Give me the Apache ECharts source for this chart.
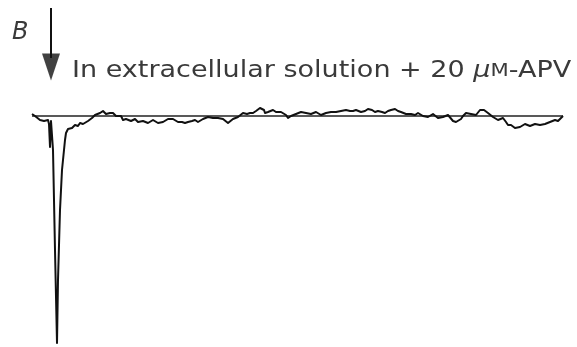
<!DOCTYPE html>
<html><head><meta charset="utf-8">
<script src="https://cdn.jsdelivr.net/npm/echarts@6/dist/echarts.min.js"></script>
<style>html,body{margin:0;padding:0;background:#fff}#c{width:577px;height:347px}</style>
</head><body><div id="c"></div>
<script>
// time (arbitrary units, sweep position) and membrane current (arbitrary units, 0 = holding baseline)
const timePts = [0,1,3,5,8,10,12,14,16,17,18,19,20,21,23,25,26,26,28,30,33,34,36,38,40,43,46,48,51,53,56,58,60,63,65,68,71,74,76,78,81,84,86,89,91,94,96,99,101,103,106,108,111,113,116,118,121,123,126,128,131,133,136,138,141,143,146,150,153,156,160,163,166,168,171,173,176,178,181,183,186,188,191,193,196,198,201,203,206,208,211,213,215,216,218,221,224,226,228,230,232,233,236,238,241,244,246,249,251,254,256,259,261,264,266,269,271,274,276,279,281,284,286,289,291,294,296,299,301,304,306,309,311,314,318,321,324,326,329,333,336,340,343,346,350,353,356,359,363,366,369,371,374,376,379,383,386,388,391,393,396,398,401,403,406,408,411,413,416,418,421,424,426,429,431,434,436,439,441,444,446,448,450,452,453,456,458,461,463,466,468,471,474,476,479,481,483,485,488,490,493,495,498,500,503,505,508,510,513,515,518,520,523,526,528,530,531];
const currentPts = [2,4,0,-2,-4,-2,-5,-7,-4,-8,-31,-5,-6,-34,-134,-227,-227,-164,-94,-54,-24,-17,-13,-11,-12,-9,-10,-7,-8,-7,-5,-4,-2,1,0,3,5,2,1,3,3,0,-1,0,-4,-3,-2,-5,-4,-3,-6,-7,-5,-4,-7,-7,-4,-4,-7,-8,-6,-5,-3,-2,-3,-4,-6,-6,-7,-6,-5,-4,-6,-5,-3,-2,-1,0,-2,-4,-2,-1,-3,-5,-7,-6,-3,-2,-1,0,3,5,2,1,3,3,5,6,8,10,6,3,4,5,6,4,5,4,3,1,-2,0,1,2,3,4,5,3,3,2,1,4,5,1,0,3,3,4,5,4,5,5,6,6,5,5,6,6,4,5,7,6,4,5,4,3,5,6,7,5,4,3,2,1,2,1,3,3,0,1,-1,0,2,1,-2,-2,-1,0,1,0,-5,-6,-7,-3,0,3,5,2,0,1,3,6,8,6,5,3,1,-1,-2,-4,-5,-2,-6,-9,-9,-10,-12,-14,-11,-10,-8,-9,-10,-10,-8,-7,-9,-10,-8,-7,-6,-5,-4,-5,-4,-1,0];
// holding-current reference line
const baseTime = [0, 531];
const baseCurrent = [0, 0];
// stimulus arrow (time, current)
const arrowTime = [19, 19];
const arrowCurrent = [108, 58];
const arrowHead = [19, 49];

const trace = timePts.map((t, i) => [t, currentPts[i]]);
const base = baseTime.map((t, i) => [t, baseCurrent[i]]);
const arrow = arrowTime.map((t, i) => [t, arrowCurrent[i]]);

const TXT = '#3a3a3a';
const chart = echarts.init(document.getElementById('c'), null, {renderer: 'canvas'});
chart.setOption({
  backgroundColor: '#ffffff',
  animation: false,
  grid: {left: 0, right: 0, top: 0, bottom: 0},
  xAxis: {type: 'value', min: -32, max: 545, show: false},
  yAxis: {type: 'value', min: -231, max: 116, show: false},
  graphic: [{
    type: 'text', x: 12, y: 21, z: 10,
    style: {text: 'B', fontFamily: 'DejaVu Sans', fontStyle: 'italic', fontSize: 24, fill: TXT, verticalAlign: 'top'}
  }, {
    type: 'text', x: 72, y: 56, scaleX: 1.175, z: 10,
    style: {
      text: '{n|In extracellular solution + 20 }{mu|μ}{sc|M}{n|-APV}',
      verticalAlign: 'top',
      rich: {
        n: {fontFamily: 'DejaVu Sans', fontSize: 23, fill: TXT, lineHeight: 30},
        mu: {fontFamily: 'DejaVu Sans', fontStyle: 'italic', fontSize: 23, fill: TXT, lineHeight: 30},
        sc: {fontFamily: 'DejaVu Sans', fontSize: 18, fill: TXT, lineHeight: 30}
      }
    }
  }],
  series: [
    {type: 'line', data: base, symbol: 'none', lineStyle: {color: '#222', width: 1.4}, z: 1},
    {type: 'line', data: trace, symbol: 'none', lineStyle: {color: '#111', width: 2, join: 'round'}, z: 2},
    {type: 'line', data: arrow, symbol: 'none', lineStyle: {color: '#111', width: 2}, z: 3},
    {type: 'scatter', data: [arrowHead], symbol: 'path://M0,0 L18,0 L9,27 Z', symbolSize: [18, 27], itemStyle: {color: '#111'}, z: 3}
  ]
});
</script></body></html>
